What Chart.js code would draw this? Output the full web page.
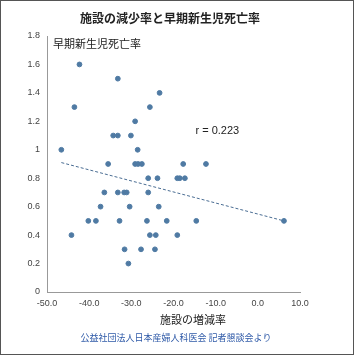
<!DOCTYPE html>
<html>
<head>
<meta charset="utf-8">
<script src="https://cdn.jsdelivr.net/npm/chart.js@4.4.0/dist/chart.umd.min.js"></script>
<style>
  html, body { margin: 0; padding: 0; background: #fff; }
  #wrap { width: 354px; height: 355px; }
</style>
</head>
<body>
<div id="wrap"><canvas id="scatterChart" width="354" height="355"></canvas></div>
<script>
// 施設の増減率 (x) と 早期新生児死亡率 (y)
const changeRate = [
    -42.3, -43.5, -46.6, -33.2, -23.3, -25.6, -29.1,
    -34.3, -33.2, -30.1, -28.5,
    -35.5, -29.1, -28.4, -27.5, -17.7, -12.3,
    -26.0, -23.8, -19.1, -18.5, -17.3,
    -36.4, -33.2, -31.7, -31.1, -26.0,
    -37.3, -30.4, -23.5,
    -40.2, -38.4, -32.8, -26.3, -21.6, -14.6, 6.2,
    -44.2, -25.6, -24.2, -19.1,
    -31.6, -27.7, -24.4,
    -30.7
];
const deathRate = [
    1.6, 1.3, 1.0, 1.5, 1.4, 1.3, 1.2,
    1.1, 1.1, 1.1, 1.0,
    0.9, 0.9, 0.9, 0.9, 0.9, 0.9,
    0.8, 0.8, 0.8, 0.8, 0.8,
    0.7, 0.7, 0.7, 0.7, 0.7,
    0.6, 0.6, 0.6,
    0.5, 0.5, 0.5, 0.5, 0.5, 0.5, 0.5,
    0.4, 0.4, 0.4, 0.4,
    0.3, 0.3, 0.3,
    0.2
];
const trendX = [-46.6, 6.2];
const trendY = [0.91, 0.5];
const xTicks = [-50, -40, -30, -20, -10, 0, 10];
const yTicks = [0, 0.2, 0.4, 0.6, 0.8, 1, 1.2, 1.4, 1.6, 1.8];

const jpFont = '"Noto Sans CJK JP", "Noto Sans", sans-serif';

const textPlugin = {
    id: 'texts',
    afterDraw(chart) {
        const c = chart.ctx;
        const xs = chart.scales.x, ys = chart.scales.y;
        c.save();
        c.strokeStyle = '#555';
        c.lineWidth = 1;
        c.strokeRect(0.5, 0.5, 353, 354);

        c.fillStyle = '#222';
        c.textBaseline = 'middle';
        c.textAlign = 'center';
        c.font = 'bold 12px ' + jpFont;
        c.fillText('施設の減少率と早期新生児死亡率', 170, 18);

        c.textAlign = 'left';
        c.font = '11px ' + jpFont;
        c.fillText('早期新生児死亡率', 53, 44);

        c.font = '11px "Liberation Sans", Arial, sans-serif';
        c.fillText('r = 0.223', xs.getPixelForValue(-14.8), ys.getPixelForValue(1.13));

        c.textAlign = 'center';
        c.font = '11px ' + jpFont;
        c.fillText('施設の増減率', 193, 320);

        c.fillStyle = '#2f5aa8';
        c.font = '9px ' + jpFont;
        c.fillText('公益社団法人日本産婦人科医会 記者懇談会より', 176, 338);
        c.restore();
    }
};

new Chart(document.getElementById('scatterChart').getContext('2d'), {
    type: 'scatter',
    data: {
        datasets: [{
            data: changeRate.map((x, i) => ({ x, y: deathRate[i] })),
            backgroundColor: '#4f7aa3',
            borderColor: '#4f7aa3',
            pointRadius: 2.4,
            pointHoverRadius: 2.4
        }, {
            type: 'line',
            data: trendX.map((x, i) => ({ x, y: trendY[i] })),
            borderColor: '#4a6d93',
            borderWidth: 1,
            borderDash: [3, 2],
            pointRadius: 0,
            fill: false
        }]
    },
    options: {
        responsive: false,
        animation: false,
        layout: { padding: { top: 36, right: 54, bottom: 0, left: 4 } },
        plugins: {
            legend: { display: false },
            tooltip: { enabled: false }
        },
        scales: {
            x: {
                type: 'linear',
                min: -50, max: 10,
                afterBuildTicks: s => { s.ticks = xTicks.map(v => ({ value: v })); },
                afterFit: s => { s.height = 63; },
                grid: { display: false, drawTicks: false },
                border: { color: '#999', width: 1 },
                ticks: {
                    padding: 6,
                    color: '#444',
                    font: { size: 9, family: '"Liberation Sans", Arial, sans-serif' },
                    callback: v => v.toFixed(1)
                }
            },
            y: {
                min: 0, max: 1.8,
                afterBuildTicks: s => { s.ticks = yTicks.map(v => ({ value: v })); },
                afterFit: s => { s.width = 43; },
                grid: { display: false, drawTicks: false },
                border: { color: '#999', width: 1 },
                ticks: {
                    padding: 7,
                    color: '#444',
                    font: { size: 9, family: '"Liberation Sans", Arial, sans-serif' },
                    callback: v => String(Number(v.toFixed(1)))
                }
            }
        }
    },
    plugins: [textPlugin]
});
</script>
</body>
</html>
